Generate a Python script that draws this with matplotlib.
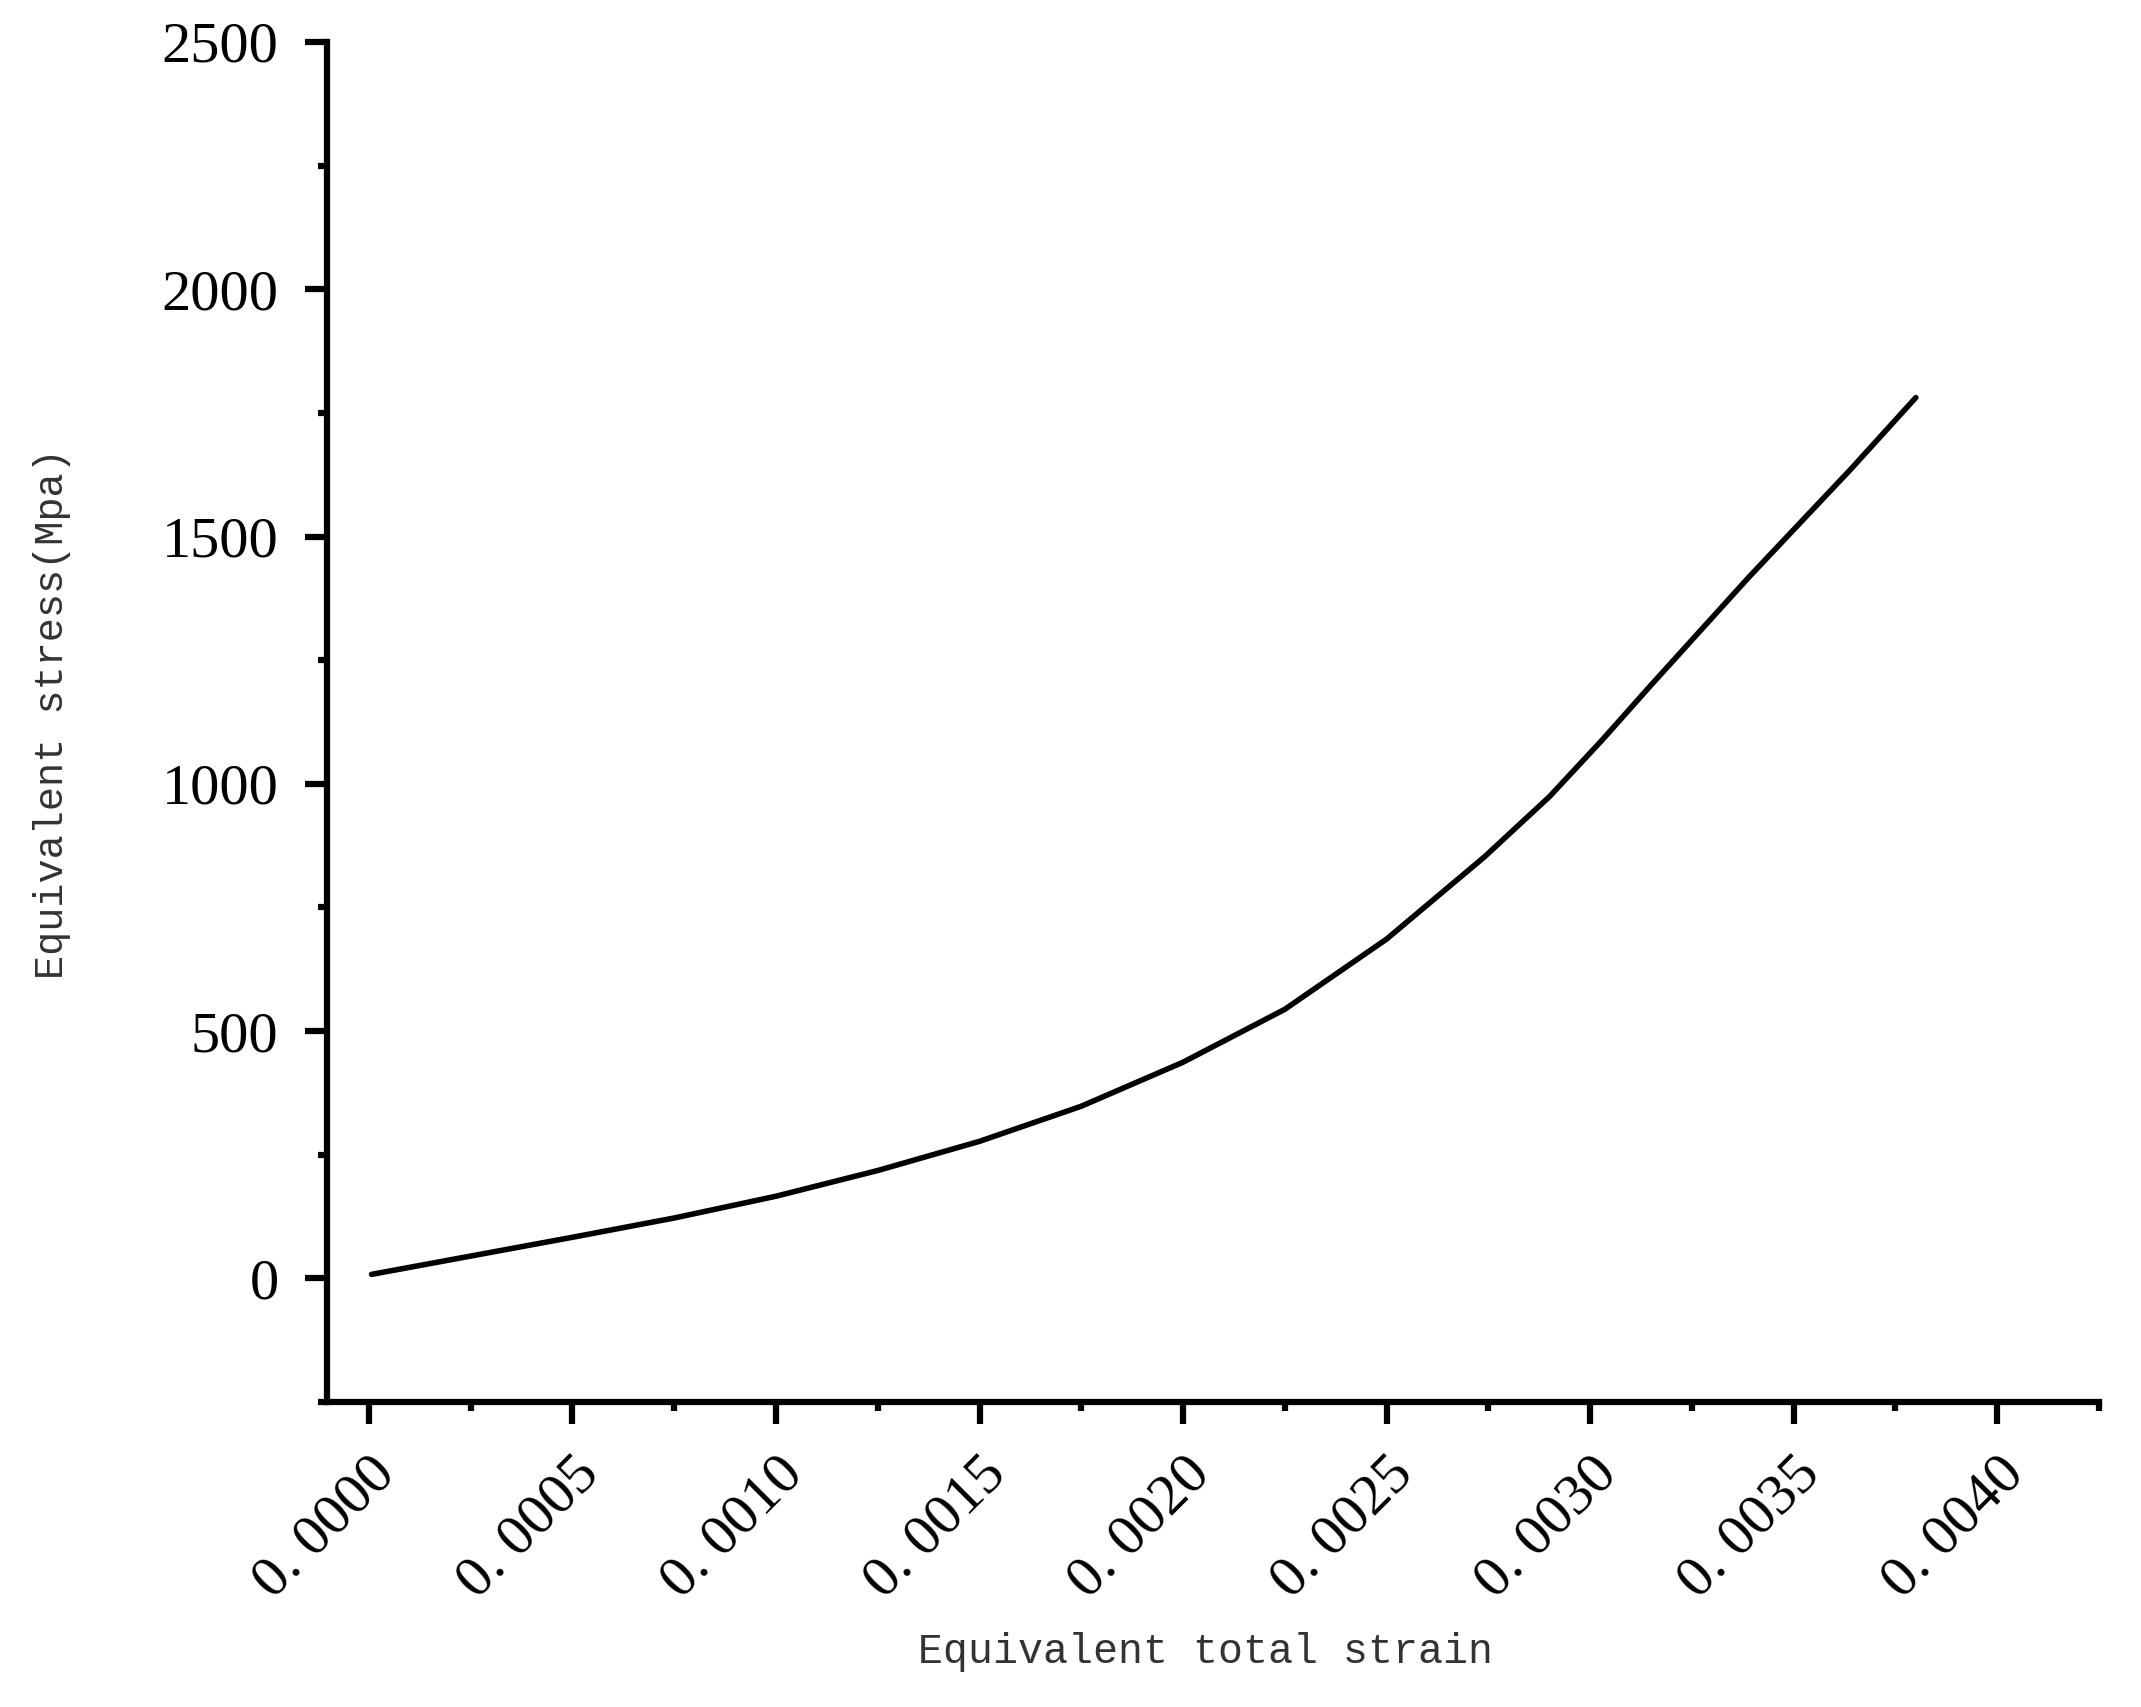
import matplotlib.pyplot as plt
from matplotlib.ticker import MultipleLocator, FuncFormatter

# values
strain = [0.0000066, 0.00025, 0.0005, 0.00075, 0.001, 0.00125, 0.0015,
          0.00175, 0.002, 0.00225, 0.0025, 0.00274, 0.0029, 0.00303,
          0.00315, 0.00339, 0.00364, 0.0038]
stress = [8, 45, 83, 122, 166, 218, 277, 348, 437, 544, 686, 852, 974, 1089,
          1200, 1418, 1636, 1781]

x_major = [0.0, 0.0005, 0.0010, 0.0015, 0.0020, 0.0025, 0.0030, 0.0035, 0.0040]
y_major = [0, 500, 1000, 1500, 2000, 2500]

fig = plt.figure(figsize=(21.41, 17.07), dpi=100)
ax = fig.add_axes([0.1527, 0.1787, 0.9804 - 0.1527, 0.9754 - 0.1787])

ax.plot(strain, stress, color='black', linewidth=4.0,
        solid_capstyle='round', solid_joinstyle='round')

ax.set_xlim(-0.000103, 0.00425)
ax.set_ylim(-250, 2500)

ax.set_xticks(x_major)
ax.set_yticks(y_major)
ax.xaxis.set_minor_locator(MultipleLocator(0.00025))
ax.yaxis.set_minor_locator(MultipleLocator(250))
ax.xaxis.set_major_formatter(FuncFormatter(lambda v, p: ('%.4f' % v).replace('.', '. ')))

for side in ['top', 'right']:
    ax.spines[side].set_visible(False)
for side in ['left', 'bottom']:
    ax.spines[side].set_linewidth(4.5)

ax.tick_params(which='major', direction='out', length=15.8, width=4.5)
ax.tick_params(which='minor', direction='out', length=6.5, width=4.5)
ax.tick_params(axis='y', which='major', pad=19, labelsize=42)
ax.tick_params(axis='x', which='major', pad=17, labelsize=42)

for lab in ax.get_yticklabels():
    lab.set_fontfamily('Liberation Serif')
for lab in ax.get_xticklabels():
    lab.set_fontfamily('Liberation Serif')
    lab.set_rotation(45)
    lab.set_ha('right')
    lab.set_va('top')
    lab.set_rotation_mode('anchor')

ax.set_xlabel('Equivalent total strain', fontsize=30, family='Liberation Mono',
              color='#333333', va='center', ha='center')
ax.xaxis.set_label_coords(0.4955, -0.1838)
ax.set_ylabel('Equivalent stress(Mpa)', fontsize=29, family='Liberation Mono',
              color='#333333', va='center', ha='center')
ax.yaxis.set_label_coords(-0.155, 0.506)

fig.savefig('out.png', dpi=100, facecolor='white')
